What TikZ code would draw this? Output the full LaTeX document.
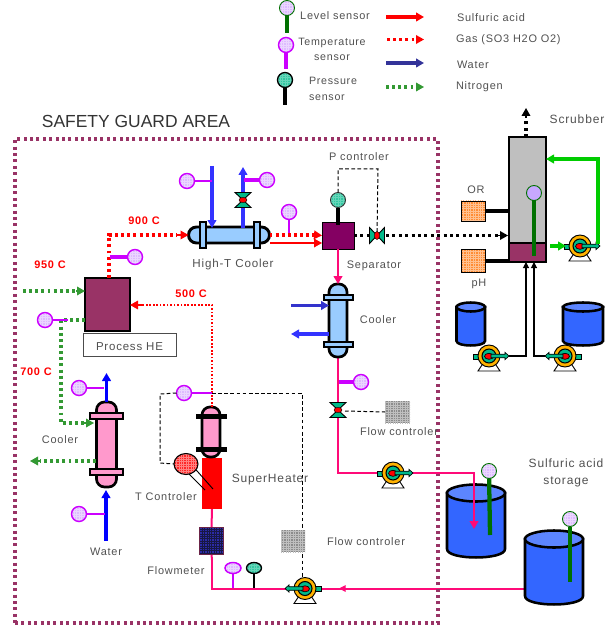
\documentclass[tikz,border=0pt]{standalone}
\usepackage{fontspec}
\setmainfont[LetterSpace=7]{Liberation Sans}
\usetikzlibrary{arrows.meta,shapes.geometric}
\definecolor{guard}{HTML}{993366}
\definecolor{txt}{HTML}{505050}
\definecolor{pinkline}{HTML}{FF0A78}
\definecolor{nitro}{HTML}{339933}
\definecolor{bluew}{HTML}{3333FF}
\definecolor{navyw}{HTML}{333399}
\definecolor{lvl}{HTML}{007000}
\definecolor{tpur}{HTML}{CC00FF}
\definecolor{lilac}{HTML}{DDBBFF}
\definecolor{teal}{HTML}{00B98A}
\definecolor{lblue}{HTML}{99CCFF}
\definecolor{lpink}{HTML}{FF99CC}
\definecolor{tankb}{HTML}{3366FF}
\definecolor{tankt}{HTML}{5C85FF}
\definecolor{orbox}{HTML}{FF8C33}
\pgfdeclarelayer{pipes}
\pgfsetlayers{pipes,main}
\tikzset{
  gridbox/.style 2 args={fill=#1,
    path picture={
      \foreach \i in {-12,...,12}{
        \draw[#2,line width=.25pt,shift={(path picture bounding box.center)}] ({\i*2.4},-32) -- ({\i*2.4},32);
        \draw[#2,line width=.25pt,shift={(path picture bounding box.center)}] (-32,{\i*2.4}) -- (32,{\i*2.4});
      }}},
  base/.style={inner sep=0pt,outer sep=0pt},
  lab/.style={base,text=txt,font=\fontsize{8.2}{11}\selectfont,align=center},
  hot/.style={base,text=red,font=\fontsize{8.2}{10}\selectfont\bfseries},
  sens/.style={base,ellipse,minimum width=#1*.75pt,minimum height=#1*.75pt},
  sT/.style={sens=15,draw=tpur,line width=1.1pt,gridbox={lilac}{white!40!lilac}},
  sL/.style={sens=15,draw=lvl,line width=.7pt,gridbox={lilac}{white!40!lilac}},
  sP/.style={sens=15,draw=black,line width=1pt,gridbox={teal!80!white}{white!40!teal}},
  rbox/.style={base,rectangle},
  tip/.style={-{Triangle[length=6pt,width=6.5pt]}},
  smalltip/.style={-{Triangle[length=4.5pt,width=4.5pt]}},
  redsolid/.style={draw=red,line width=1pt,tip},
  reddot/.style={draw=red,line width=2.4pt,dash pattern=on 2.2pt off 2.4pt},
  thinreddot/.style={draw=red,line width=1.3pt,dash pattern=on 1.3pt off 1.3pt},
  greendot/.style={draw=nitro,line width=2.4pt,dash pattern=on 2.2pt off 2.4pt},
  blackdot/.style={draw=black,line width=2.4pt,dash pattern=on 2.2pt off 2.6pt},
  bluep/.style={draw=bluew,line width=2.4pt,tip},
  pinkp/.style={draw=pinkline,line width=1.5pt},
  ctrl/.style={draw=black,line width=.75pt,dash pattern=on 2.8pt off 1.8pt},
  tstem/.style={draw=tpur,line width=1.2pt},
  tstemb/.style={draw=tpur,line width=3.2pt},
  gstem/.style={draw=lvl,line width=3.2pt},
  kstem/.style={draw=black,line width=3.2pt},
  pics/pump/.style={code={
    \draw[black,line width=.7pt,fill=white] (-11,15) -- (-5,6) -- (5,6) -- (11,15) -- cycle;
    \draw[fill=teal,draw=black,line width=.5pt] (-16,-2) rectangle (-9,3);
    \draw[fill=orange!60!yellow,draw=black,line width=.7pt] (0,0) circle[radius=11];
    \draw[fill=teal,draw=black,line width=.8pt] (0,0) circle[radius=7];
    \draw[fill=red,draw=black,line width=.5pt] (0,0.3) ellipse[x radius=4.5,y radius=3];
    \draw[fill=teal,draw=black,line width=.5pt] (2,-1.8) -- (16,-1.8) -- (16,-3.6) -- (20,0) -- (16,3.6) -- (16,1.8) -- (2,1.8) -- cycle;
  }},
  pics/valve/.style={code={
    \draw[fill=teal,draw=black,line width=.7pt] (-8,-7.5) -- (8,-7.5) -- (0,0) -- cycle;
    \draw[fill=teal,draw=black,line width=.7pt] (-8,7.5) -- (8,7.5) -- (0,0) -- cycle;
    \fill[red,draw=black,line width=.3pt] (0,0) ellipse[x radius=4,y radius=2.6];
  }}
}
\newcommand\tank[6]{% x1 x2 top bottom ry name
  \path[draw=black,line width=1.9pt,fill=tankb] (#1,#3) -- (#1,#4) .. controls (#1,#4+1.33*#5) and (#2,#4+1.33*#5) .. (#2,#4) -- (#2,#3) -- cycle;
  \node[base,ellipse,draw=black,line width=1.9pt,fill=tankt,minimum width=(#2-#1)*.75pt,minimum height=2*#5*.75pt] (#6) at ({(#1+#2)/2},#3) {};
}
\begin{document}
\begin{tikzpicture}[x=.75pt,y=-.75pt,line join=miter]
\useasboundingbox (0,0) rectangle (611,627);

% guard area
\node[rbox,draw=guard,line width=2.4pt,dash pattern=on 2.3pt off 2.5pt,minimum width=423*.75pt,minimum height=484*.75pt] (guardarea) at (226.5,381) {};
\node[base,text=black!80,font=\fontsize{13.1}{15}\selectfont] (safety) at (136,121) {\addfontfeature{LetterSpace=0}SAFETY GUARD AREA};

% legend
\node[sL] (legL) at (287,8) {};
\coordinate (legLe) at (287,33);
\node[sT] (legT) at (286,45) {};
\coordinate (legTe) at (286,69);
\node[sP] (legP) at (285,80) {};
\coordinate (legPe) at (285,105);
\draw[gstem] (legL) -- (legLe);
\draw[tstemb] (legT) -- (legTe);
\draw[kstem] (legP) -- (legPe);
\node[lab] (tL) at (335,15.5) {Level sensor};
\node[lab,text height=7pt,font=\fontsize{8}{11}\selectfont] (tT) at (332,56) {Temperature\\sensor};
\node[lab,align=left,font=\fontsize{8}{11.5}\selectfont] (tP) at (333,89) {Pressure\\sensor};
\foreach \n/\yy/\st in {a/17/red, c/63/navyw}{
  \coordinate (leg\n1) at (386,\yy); \coordinate (leg\n2) at (424,\yy);
  \draw[draw=\st,line width=2.4pt,tip] (leg\n1) -- (leg\n2);
}
\coordinate (legg1) at (387,39.5); \coordinate (legg2) at (424,39.5); \coordinate (leggm) at (416,39.5);
\draw[reddot] (legg1) -- (leggm);
\draw[red,tip,line width=1pt] (leggm) -- (legg2);
\coordinate (legn1) at (386,87); \coordinate (legn2) at (424,87); \coordinate (legnm) at (416,87);
\draw[greendot] (legn1) -- (legnm);
\draw[nitro,tip,line width=1pt] (legnm) -- (legn2);
\node[lab,anchor=west] (ta) at (457,18) {Sulfuric acid};
\node[lab,anchor=west] (tg) at (456,40) {Gas (SO3 H2O O2)};
\node[lab,anchor=west] (tw) at (457,65) {Water};
\node[lab,anchor=west] (tn) at (456,87) {Nitrogen};

% Process HE
\node[rbox,draw=black,line width=.9pt,fill=guard,minimum width=45*.75pt,minimum height=53*.75pt] (phe) at (107.5,304.5) {};
\node[rbox,draw=black!70,line width=.7pt,fill=white,minimum width=93*.75pt,minimum height=23*.75pt] (phebox) at (129.5,344.5) {};
\node[lab,font=\fontsize{8.6}{10}\selectfont] (phet) at (129.5,347) {Process HE};

% High-T cooler
\node[rbox,rounded corners=6pt,draw=black,line width=2.2pt,fill=lblue,minimum width=81*.75pt,minimum height=16*.75pt] (htc) at (229,235) {};
\node[rbox,draw=black,line width=1.5pt,fill=lblue,minimum width=6*.75pt,minimum height=26*.75pt] at (203,235) {};
\node[rbox,draw=black,line width=1.5pt,fill=lblue,minimum width=6*.75pt,minimum height=26*.75pt] at (257,235) {};
\node[lab,font=\fontsize{8.7}{10}\selectfont] (htct) at (233,264) {High-T Cooler};
\coordinate (wi1) at (212,166); \coordinate (wi2) at (212,228);
\coordinate (wo1) at (243,228); \coordinate (wo2) at (243,167);
\draw[bluep] (wi1) -- (wi2);
\draw[bluep] (wo1) -- (wo2);
\pic (v1) at (243,200) {valve};
\node[sT] (s1) at (187,181) {};
\node[sT] (s2) at (267,180) {};
\draw[tstem] (s1) -- (212,181);
\draw[tstemb,line width=2.6pt] (s2) -- (244,180);

% gas out of process HE
\coordinate (g1) at (109,235);
\coordinate (g2) at (177,235);
\draw[reddot] (phe.north -| g1) -- (g1) -- (g2);
\draw[red,tip,line width=1pt] (g2) -- (htc.west);
\node[sT] (s3) at (135,257) {};
\draw[tstemb,line width=2.6pt] (s3) -- (110,257);
\node[hot] (h900) at (144,221) {900 C};
\node[hot] (h950) at (50,265) {950 C};
\node[hot] (h500) at (191,294) {500 C};
\node[hot] (h700) at (36,372) {700 C};

% separator
\node[rbox,draw=black,line width=.7pt,fill=purple!30!violet!90!black,minimum width=32*.75pt,minimum height=27*.75pt] (sep) at (338,235.5) {};
\node[sT] (s4) at (289,212) {};
\coordinate (s4e) at (289,235);
\draw[tstem] (s4) -- (s4e);
\coordinate (hg) at (316,235);
\coordinate (hs1) at (270,243); \coordinate (hs2) at (322,243);
\draw[reddot] (htc.east) -- (hg);
\draw[red,tip,line width=1pt] (hg) -- (sep.west);
\draw[redsolid] (hs1) -- (hs2);
\node[sP,draw=black!80,line width=.7pt] (pc) at (338,200) {};
\draw[kstem] (pc) -- (338,225);
\node[lab] (pct) at (359,157) {P controler};
\node[lab] (sept) at (374,266) {Separator};

% scrubber
\node[rbox,draw=black,line width=2.2pt,fill=black!25,minimum width=37*.75pt,minimum height=125*.75pt] (scr) at (527.5,199.5) {};
\node[rbox,draw=black,line width=2.2pt,fill=guard,minimum width=37*.75pt,minimum height=19*.75pt] (scrb) at (527.5,252.5) {};
\node[base,ellipse,draw=lvl,line width=.7pt,fill=lilac!90!blue,minimum width=15*.75pt,minimum height=15*.75pt] (s5) at (534,193) {};
\coordinate (s5e) at (534,256);
\draw[gstem] (s5) -- (s5e);
\node[lab,font=\fontsize{9}{11}\selectfont] (scrt) at (577,119) {Scrubber};
\coordinate (exh) at (526,108); \coordinate (exhm) at (526,118);
\draw[blackdot] (scr.north -| exh) -- (exhm);
\draw[black,tip,line width=1pt] (exhm) -- (exh);

% valve and gas to scrubber
\node[base,minimum size=1pt] (vh) at (377,235.5) {};
\coordinate (sg) at (498,235.5); \coordinate (sge) at (508,235.5);
\draw[blackdot] (sep.east) -- (sg);
\draw[black,tip,line width=1pt] (sg) -- (sge);
\draw[ctrl] (pc.north) -- (338,169) -- (378,169) -- (vh);
\pic[rotate=90] at (377,235.5) {valve};

% OR / pH
\node[rbox,draw=black,line width=.6pt,gridbox={orbox}{white!45!orbox},minimum width=24*.75pt,minimum height=20*.75pt] (or) at (473,211) {};
\node[rbox,draw=black,line width=.6pt,gridbox={orbox}{white!45!orbox},minimum width=24*.75pt,minimum height=23*.75pt] (ph) at (473,261) {};
\node[lab] (ort) at (476,190) {OR};
\node[lab] (pht) at (479,284) {pH};
\draw[kstem,line width=2.4pt] (or.east) -- (or.east -| scr.west);
\draw[kstem,line width=2.4pt] (ph.east) -- (ph.east -| scrb.west);

% scrubber recirc
\pic at (580,246) {pump};
\coordinate (rg1) at (550,246); \coordinate (rg2) at (566,246);
\coordinate (rg3) at (598,244); \coordinate (rg4) at (598,159);
\draw[draw=green!80!black,line width=2.4pt,tip] (rg1) -- (rg2);
\draw[draw=green!80!black,line width=2.4pt,tip] (rg3) -- (rg4) -- (scr.east |- rg4);

% feed tanks and pumps
\tank{456.5}{485}{307}{341}{4.5}{tk1}
\tank{563}{603}{307}{341}{4.5}{tk2}
\pic at (489,356) {pump};
\pic[xscale=-1] at (565,356) {pump};
\coordinate (f1) at (509,356); \coordinate (f2) at (526,356);
\coordinate (f3) at (545,356); \coordinate (f4) at (534,356);
\draw[black,line width=.8pt,smalltip] (f1) -- (f2) -- (f2 |- scrb.south);
\draw[black,line width=.8pt,smalltip] (f3) -- (f4) -- (f4 |- scrb.south);

% cooler 2
\node[rbox,rounded corners=6pt,draw=black,line width=2pt,fill=lblue,minimum width=18*.75pt,minimum height=73*.75pt] (c2) at (338,320.5) {};
\node[rbox,draw=black,line width=1.5pt,fill=lblue,minimum width=29*.75pt,minimum height=5*.75pt] at (338,297) {};
\node[rbox,draw=black,line width=1.5pt,fill=lblue,minimum width=29*.75pt,minimum height=5*.75pt] at (338,344.5) {};
\draw[pinkp,tip] (sep.south) -- (c2.north);
\coordinate (bi) at (291,305.5); \coordinate (bo) at (291,334);
\draw[draw=navyw!50!bluew,line width=2.4pt,tip] (bi) -- (c2.west |- bi);
\draw[draw=bluew,line width=2.4pt,tip] (c2.west |- bo) -- (bo);
\node[lab] (c2t) at (378,320) {Cooler};

% acid line to storage
\tank{447}{505}{493}{549}{8.5}{tk3}
\tank{525}{583}{539}{596}{8.5}{tk4}
\coordinate (a1) at (338,473); \coordinate (a2) at (474,473); \coordinate (a3) at (474,529); \coordinate (a0) at (405,473);
\begin{pgfonlayer}{pipes}
  \draw[pinkp] (c2.south) -- (a1) -- (a0);
\end{pgfonlayer}
\draw[pinkp,tip,line width=1.6pt] (a0) -- (a2) -- (a3);
\pic at (393,473) {pump};
\pic (v2) at (338,410) {valve};
\node[sT] (s6) at (361,382) {};
\draw[tstemb,line width=2.6pt] (s6) -- (339,382);
\node[rbox,gridbox={black!45}{black!25},minimum width=25*.75pt,minimum height=22*.75pt] (fc1) at (397.5,412) {};
\coordinate (v2c) at (345,411);
\draw[ctrl] (v2c) -- (fc1.west);
\node[lab] (fc1t) at (399,432) {Flow controler};

\node[sL] (s7) at (489,471) {};
\coordinate (s7e) at (490,535);
\draw[gstem] (s7) -- (s7e);
\node[sL] (s8) at (570,519) {};
\coordinate (s8e) at (570,582);
\draw[gstem] (s8) -- (s8e);
\node[lab,font=\fontsize{9}{12.5}\selectfont] (st) at (566,473) {Sulfuric acid\\storage};

% return from storage
\coordinate (r1) at (524,588.5); \coordinate (r2) at (212,588.5); \coordinate (rm) at (339,588.5); \coordinate (rn) at (348,588.5);
\pic[xscale=-1] (pr) at (305,588.5) {pump};
\begin{pgfonlayer}{pipes}
  \draw[pinkp] (r1) -- (r2) -- (212,560);
\end{pgfonlayer}
\draw[pinkline,-{Triangle[length=5pt,width=5pt]},line width=.8pt] (rn) -- (rm);

% superheater
\node[rbox,fill=red,minimum width=20*.75pt,minimum height=51*.75pt] (sh) at (212,483.5) {};
\node[rbox,rounded corners=6pt,draw=black,line width=2pt,fill=lpink,minimum width=18*.75pt,minimum height=50*.75pt] (c3) at (211,432) {};
\node[rbox,fill=black,minimum width=31*.75pt,minimum height=5*.75pt] at (211,416) {};
\node[rbox,fill=black,minimum width=31*.75pt,minimum height=5*.75pt] at (211,449) {};
\node[rbox,draw=guard!70!black,line width=.8pt,gridbox={navyw!85!blue}{black!55!navyw},minimum width=24*.75pt,minimum height=27*.75pt] (fm) at (211.5,541) {};
\begin{pgfonlayer}{pipes}
  \draw[pinkp] (sh.south) -- (fm.north);
  \draw[pinkp] (fm.south) -- (212,560);
\end{pgfonlayer}
\coordinate (hg1) at (212,305); \coordinate (hg2) at (143,305);
\draw[thinreddot] (c3.north -| hg1) -- (hg1) -- (hg2);
\draw[red,tip,line width=.8pt] (hg2) -- (phe.east |- hg2);
\node[sT] (s9) at (184,393) {};
\coordinate (s9e) at (212,393);
\draw[tstem] (s9) -- (s9e);
\node[base,ellipse,draw=black,line width=.8pt,gridbox={red!85!white}{white!50!red},minimum width=24*.75pt,minimum height=21*.75pt] (tc) at (186,464) {};
\coordinate (d1) at (160,394); \coordinate (d2) at (160,463);
\coordinate (d3) at (302,393); \coordinate (d4) at (302,578);
\draw[ctrl] (s9.west) -- (d1) -- (d2) -- (tc.west);
\draw[ctrl] (s9e) -- (d3) -- (d4);
\coordinate (tl1) at (205,490); \coordinate (tl2) at (213,489);
\coordinate (tl0) at (189,474);
\draw[black,line width=.7pt] (tl0) -- (tl1);
\draw[black,line width=.7pt] (tc.-30) -- (tl2);
\node[lab] (tct) at (166,497) {T Controler};
\node[lab,font=\fontsize{9}{11}\selectfont] (sht) at (270,480) {SuperHeater};
\node[lab] (fmt) at (176,571) {Flowmeter};
\node[rbox,gridbox={black!45}{black!25},minimum width=24*.75pt,minimum height=22*.75pt] (fc2) at (293,541) {};
\node[lab] (fc2t) at (366,542) {Flow controler};
\node[sT,minimum width=16*.75pt,minimum height=11*.75pt] (s10) at (233,568) {};
\node[sP,minimum width=15*.75pt,minimum height=11*.75pt] (s11) at (254,568) {};
\draw[tstem] (s10) -- (233,588);
\draw[black,line width=1.3pt] (s11) -- (254,588);

% cooler 1
\node[rbox,rounded corners=6pt,draw=black,line width=2pt,fill=lpink,minimum width=20*.75pt,minimum height=85*.75pt] (c1) at (106.5,444.5) {};
\node[rbox,draw=black,line width=1.5pt,fill=lpink,minimum width=33*.75pt,minimum height=6*.75pt] at (106.5,416) {};
\node[rbox,draw=black,line width=1.5pt,fill=lpink,minimum width=33*.75pt,minimum height=6*.75pt] at (106.5,472) {};
\coordinate (w1) at (106,541); \coordinate (w2) at (106,490); \coordinate (w3) at (106.5,373);
\draw[draw=blue,line width=2.4pt,tip] (w1) -- (w2);
\draw[draw=blue,line width=2.4pt,tip] (c1.north) -- (w3);
\node[sT] (s12) at (79,388) {};
\draw[tstem] (s12) -- (104,388);
\node[sT] (s13) at (79,514) {};
\draw[tstem] (s13) -- (105,514);
\node[lab] (wt) at (106,552) {Water};
\node[lab] (c1t) at (60,440) {Cooler};

% nitrogen
\coordinate (n1) at (23,291); \coordinate (n2) at (76,291);
\draw[greendot] (n1) -- (n2);
\draw[nitro,tip,line width=1pt] (n2) -- (phe.west |- n2);
\coordinate (n3) at (61,320); \coordinate (n4) at (61,423); \coordinate (n5) at (84,423); \coordinate (n6) at (94,423);
\draw[greendot] (phe.west |- n3) -- (n3) -- (n4) -- (n5);
\draw[nitro,tip,line width=1pt] (n5) -- (n6);
\coordinate (n7) at (96,461); \coordinate (n8) at (40,461); \coordinate (n9) at (30,461);
\draw[greendot] (n7) -- (n8);
\draw[nitro,tip,line width=1pt] (n8) -- (n9);
\node[sT] (s14) at (45,320) {};
\draw[tstem] (s14) -- (68,320);
\end{tikzpicture}
\end{document}
